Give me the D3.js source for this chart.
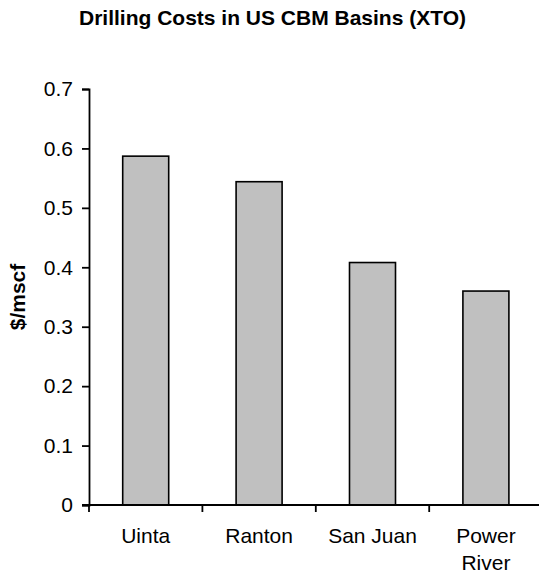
<!DOCTYPE html>
<html>
<head>
<meta charset="utf-8">
<script src="https://cdn.jsdelivr.net/npm/d3@7"></script>
<style>
  body { margin: 0; background: #fff; }
  svg text { font-family: "Liberation Sans", Arial, sans-serif; fill: #000; }
</style>
</head>
<body>
<div id="chart"></div>
<script>
// Chart data
const basins = ['Uinta', 'Ranton', 'San Juan', 'Power River'];
const costs = [0.587, 0.544, 0.408, 0.360];
const yTicks = [0, 0.1, 0.2, 0.3, 0.4, 0.5, 0.6, 0.7];

const W = 539, H = 573;
const margin = { top: 89, left: 89, bottom: 68 };
const plotH = H - margin.top - margin.bottom; // 416
const plotRight = 542.6;

const svg = d3.select('#chart').append('svg')
    .attr('width', W)
    .attr('height', H);

// Title
svg.append('text')
    .attr('x', 272.5)
    .attr('y', 25)
    .attr('text-anchor', 'middle')
    .style('font-size', '21px')
    .style('font-weight', 'bold')
    .text('Drilling Costs in US CBM Basins (XTO)');

const x = d3.scaleBand()
    .domain(basins)
    .range([margin.left, plotRight])
    .paddingInner(0)
    .paddingOuter(0);

const y = d3.scaleLinear()
    .domain([0, 0.7])
    .range([margin.top + plotH, margin.top]);

// Bars
const barW = 46;
svg.selectAll('.bar')
    .data(basins)
    .enter()
    .append('rect')
    .attr('class', 'bar')
    .attr('x', (d) => x(d) + (x.bandwidth() - barW) / 2)
    .attr('y', (d, i) => y(costs[i]))
    .attr('width', barW)
    .attr('height', (d, i) => y(0) - y(costs[i]))
    .attr('fill', '#c0c0c0')
    .attr('stroke', '#000')
    .attr('stroke-width', 1.6);

// Y axis
const yAxis = svg.append('g')
    .attr('transform', `translate(${margin.left},0)`)
    .call(d3.axisLeft(y)
        .tickValues(yTicks)
        .tickSize(7)
        .tickPadding(9)
        .tickFormat(d => d === 0 ? '0' : d3.format('.1f')(d)));
yAxis.select('.domain').attr('stroke', '#000').attr('stroke-width', 1.8);
yAxis.selectAll('.tick line').attr('stroke', '#000').attr('stroke-width', 1.8);
yAxis.selectAll('.tick text').style('font-size', '21px');

// X axis: ticks at category boundaries
const xAxisG = svg.append('g')
    .attr('transform', `translate(0,${y(0)})`);
xAxisG.append('line')
    .attr('x1', margin.left - 7)
    .attr('x2', W)
    .attr('stroke', '#000')
    .attr('stroke-width', 1.8);
xAxisG.selectAll('.xtick')
    .data(basins)
    .enter()
    .append('line')
    .attr('x1', d => x(d))
    .attr('x2', d => x(d))
    .attr('y1', 0)
    .attr('y2', 7)
    .attr('stroke', '#000')
    .attr('stroke-width', 1.8);

// Category labels (wrapped on spaces when too long)
xAxisG.selectAll('.xlabel')
    .data(basins)
    .enter()
    .append('text')
    .attr('class', 'xlabel')
    .attr('text-anchor', 'middle')
    .style('font-size', '21px')
    .each(function (d) {
        const t = d3.select(this);
        const lines = d === 'Power River' ? ['Power', 'River'] : [d];
        lines.forEach((ln, i) => {
            t.append('tspan')
                .attr('x', x(d) + x.bandwidth() / 2)
                .attr('y', 38 + i * 27)
                .text(ln);
        });
    });

// Y axis label
svg.append('text')
    .attr('transform', `translate(25,${margin.top + plotH / 2}) rotate(-90)`)
    .attr('text-anchor', 'middle')
    .style('font-size', '21px')
    .style('font-weight', 'bold')
    .text('$/mscf');
</script>
</body>
</html>
